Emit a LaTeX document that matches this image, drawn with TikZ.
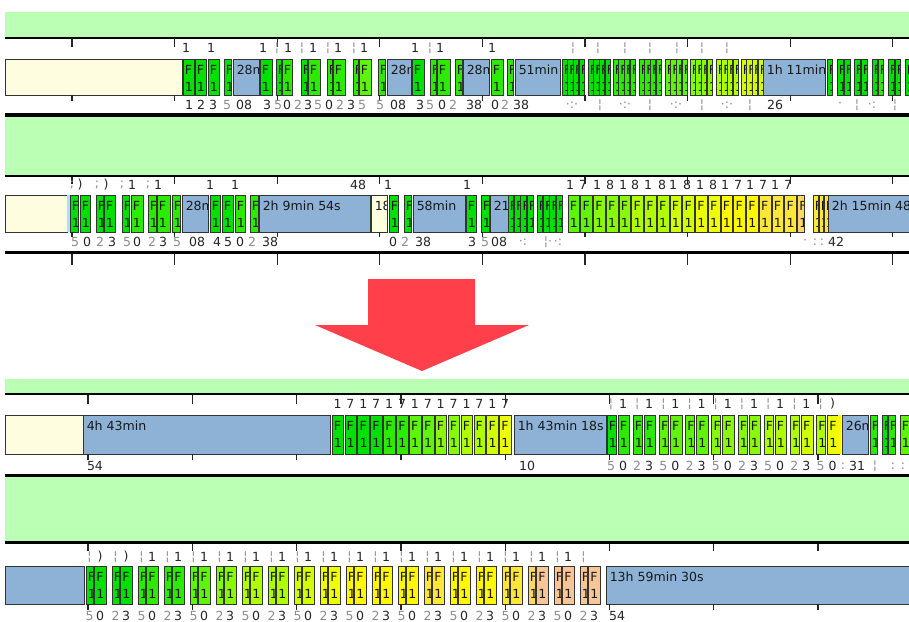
\documentclass[tikz,border=0pt]{standalone}
\usepackage{fontspec}
\setmainfont{DejaVu Sans}
\definecolor{gband}{RGB}{186,255,180}
\definecolor{beige}{RGB}{255,253,224}
\definecolor{bblue}{RGB}{141,178,214}
\definecolor{arrowred}{RGB}{255,64,74}
\definecolor{c0}{RGB}{0,225,0}
\definecolor{c1}{RGB}{45,235,0}
\definecolor{c2}{RGB}{95,245,10}
\definecolor{c3}{RGB}{135,250,10}
\definecolor{c4}{RGB}{175,255,0}
\definecolor{c5}{RGB}{210,255,0}
\definecolor{c6}{RGB}{238,255,0}
\definecolor{c7}{RGB}{255,248,0}
\definecolor{c8}{RGB}{255,230,55}
\definecolor{c9}{RGB}{255,216,100}
\definecolor{pe}{RGB}{248,198,150}
\newcommand\lblfont{\fontsize{9.4}{10}\selectfont}
\newcommand\rowtop{0}
\newcommand\rowbot{0}
\newcommand\setrow[2]{\renewcommand\rowtop{#1}\renewcommand\rowbot{#2}}
\tikzset{
  lbl/.style={font=\lblfont, inner sep=0pt, text=black!85},
  frag/.style={lbl, text=black!45},
  intxt/.style={font=\lblfont, inner sep=0pt, anchor=north west, text=black!90},
  bedge/.style={draw=black!80, line width=0.6pt},
  tickln/.style={draw=black!85, line width=1pt}
}
% block with F / 1 text
\newcommand\fb[3]{%
  \begin{scope}
    \clip (#1,\rowtop) rectangle (#2,\rowbot);
    \fill[#3] (#1,\rowtop) rectangle (#2,\rowbot);
    \node[intxt] at (#1+1.5,\rowtop+6) {F};
    \node[intxt] at (#1+1.5,\rowtop+23) {1};
  \end{scope}
  \draw[bedge] (#1,\rowtop) rectangle (#2,\rowbot);}
% block with a label
\newcommand\tb[4]{%
  \begin{scope}
    \clip (#1,\rowtop) rectangle (#2,\rowbot);
    \fill[#3] (#1,\rowtop) rectangle (#2,\rowbot);
    \node[intxt] at (#1+3.5,\rowtop+6) {#4};
  \end{scope}
  \draw[bedge] (#1,\rowtop) rectangle (#2,\rowbot);}
\newcommand\nb[3]{\tb{#1}{#2}{bblue}{#3}}
\begin{document}
\begin{tikzpicture}[x=0.75pt,y=-0.75pt]
\useasboundingbox (0,0) rectangle (909,621);
\fill[white] (0,0) rectangle (909,621);

% ================= panel 1 backgrounds
\fill[gband] (5,12) rectangle (912,37);
\draw[line width=1.5pt] (5,38) -- (912,38);
\draw[line width=3pt] (5,115) -- (912,115);
\fill[gband] (5,117) rectangle (912,175);
\draw[line width=1.8pt] (5,176) -- (912,176);
\draw[line width=2.6pt] (5,252.5) -- (912,252.5);

% ================= row A
\setrow{59}{95}
\tb{5}{182}{beige}{}
\foreach \a/\b/\c in {183/194/c0,195/206/c0,208/219/c0,224/231/c0,260/272/c0,276/281/c0,282/292/c1,301/307/c0,308/320/c1,327/332/c1,333/345/c1,353/358/c1,359/371/c2,378/385/c1,412/424/c0,430/436/c1,437/450/c1,455/462/c1,491/503/c1,507/513/c1,827/832/c0,837/843/c0,844/850/c0,854/860/c0,861/867/c0,872/877/c0,878/883/c1,888/894/c0,895/900/c0,905/911/c0}
  {\fb{\a}{\b}{\c}}
\nb{233}{259}{28min}
\nb{387}{411}{28min}
\nb{463}{489}{28min}
\nb{515}{560}{51min}
\nb{763}{825}{1h 11min}
\foreach \s/\c in {562/c0,588/c0,613/c1,639/c1,665/c2,690/c3,716/c4,741/c5}
  {\foreach \j in {0,1,2,3}
    {\pgfmathsetmacro\xa{\s+\j*5.7}\pgfmathsetmacro\xb{\xa+5.2}\fb{\xa}{\xb}{\c}}}

% ================= row B
\setrow{195}{232}
\tb{5}{67}{beige}{}
\fill[cyan!35] (67,195) rectangle (70,232);
\foreach \a/\b/\c in {70/78/c0,80/90/c0,96/103/c0,104/115/c0,122/129/c0,131/143/c1,148/156/c1,157/170/c1,172/180/c1,210/220/c0,222/233/c0,235/245/c1,250/258/c1,389/398/c0,404/411/c0,466/476/c0,481/489/c0}
  {\fb{\a}{\b}{\c}}
\nb{182}{208}{28min}
\nb{259}{370}{2h 9min 54s}
\tb{371}{387}{beige}{18}
\nb{413}{465}{58min}
\nb{490}{508}{21min}
\foreach \s in {508,537}
  {\foreach \j in {0,1,2,3}
    {\pgfmathsetmacro\xa{\s+\j*6.4}\pgfmathsetmacro\xb{\xa+5.8}\fb{\xa}{\xb}{c0}}}
\foreach \i/\c in {0/c2,1/c2,2/c3,3/c3,4/c3,5/c4,6/c4,7/c4,8/c5,9/c5,10/c6,11/c6,12/c7,13/c7,14/c7,15/c8,16/c8,17/c8}
  {\pgfmathsetmacro\xa{568+12.75*\i}\pgfmathsetmacro\xb{\xa+11.8}\fb{\xa}{\xb}{\c}}
\fb{797.5}{804}{c9}
\foreach \a/\b in {813/818,819/823,824/828}{\fb{\a}{\b}{c8}}
\nb{828}{915}{2h 15min 48s}

% ================= arrow
\fill[arrowred] (368,279) -- (475,279) -- (475,325) -- (529,325) -- (422,371) -- (315,325) -- (368,325) -- cycle;

% ================= panel 2 backgrounds
\fill[gband] (5,379) rectangle (912,392.5);
\draw[line width=1.8pt] (5,394) -- (912,394);
\draw[line width=2.6pt] (5,475.5) -- (912,475.5);
\fill[gband] (5,477) rectangle (912,541);
\draw[line width=2.2pt] (5,542.5) -- (912,542.5);

% ================= row C
\setrow{415}{454}
\tb{5}{83}{beige}{}
\nb{83}{330}{4h 43min}
\foreach \i/\c in {0/c0,1/c0,2/c0,3/c0,4/c1,5/c1,6/c2,7/c2,8/c3,9/c3,10/c4,11/c4,12/c5,13/c6}
  {\pgfmathsetmacro\xa{332+12.9*\i}\pgfmathsetmacro\xb{\xa+11.6}\fb{\xa}{\xb}{\c}}
\nb{514}{606}{1h 43min 18s}
\foreach \k/\ca/\cb in {0/c0/c1,1/c1/c1,2/c2/c2,3/c2/c2,4/c3/c3,5/c3/c3,6/c4/c4,7/c4/c5,8/c4/c6}
  {\pgfmathsetmacro\xa{607+26.2*\k}\pgfmathsetmacro\xb{\xa+9}
   \pgfmathsetmacro\xc{\xa+11}\pgfmathsetmacro\xd{\xa+22.5}
   \fb{\xa}{\xb}{\ca}\fb{\xc}{\xd}{\cb}}
\fill[c7] (838,415) rectangle (841,454);
\nb{842}{868}{26min}
\foreach \a/\b/\c in {870/877/c1,882/887/c0,888/895/c1,900/911/c2}{\fb{\a}{\b}{\c}}

% ================= row D
\setrow{566}{604}
\nb{5}{84}{}
\foreach \k/\ca/\cb in {0/c0/c0,1/c0/c0,2/c1/c1,3/c1/c1,4/c2/c2,5/c3/c3,6/c4/c4,7/c4/c4,8/c5/c5,9/c6/c6,10/c7/c7,11/c7/c7,12/c7/c7,13/c8/c8,14/c7/c7,15/c7/c7,16/c8/c8,17/c9/pe,18/pe/pe,19/pe/pe}
  {\pgfmathsetmacro\xa{86+26*\k}\pgfmathsetmacro\xb{\xa+7}
   \pgfmathsetmacro\xc{\xa+8.5}\pgfmathsetmacro\xd{\xa+20}
   \fb{\xa}{\xb}{\ca}\fb{\xc}{\xd}{\cb}}
\nb{606}{915}{13h 59min 30s}

% ================= ticks
\foreach \k in {0,...,8}{
  \pgfmathsetmacro\tx{72+102.6*\k}
  \draw[tickln] (\tx,38) -- (\tx,47);
  \draw[tickln] (\tx,95) -- (\tx,101);
  \draw[tickln] (\tx,177) -- (\tx,184);
  \draw[tickln] (\tx,232) -- (\tx,237);
  \draw[tickln] (\tx,254) -- (\tx,265);}
\foreach \k in {0,...,7}{
  \pgfmathsetmacro\tx{88+104.3*\k}
  \draw[tickln] (\tx,395) -- (\tx,404);
  \draw[tickln] (\tx,454) -- (\tx,460);
  \draw[tickln] (\tx,544) -- (\tx,551);
  \draw[tickln] (\tx,604) -- (\tx,610);}

% ================= labels row A
\foreach \x/\t in {186/1,211/1,263/1,288/1,313/1,338/1,364/1,415/1,440/1,492/1}
  \node[lbl] at (\x,48) {\t};
\foreach \x in {277,302,328,354,430,573,598,625,650,677,702,727}
  \node[frag] at (\x,48) {¦};
\foreach \x/\t in {189/1,201/2,213/3,244/08,267/3,287/0,308/3,329/0,351/3,398/08,420/3,442/0,474/38,495/0,521/38,775/26}
  \node[lbl] at (\x,105) {\t};
\foreach \x/\t in {227/5,278/5,298/2,318/5,340/2,362/5,380/5,430/5,453/2,505/2,572/·:·,600/¦,625/·:·,650/¦,676/·:·,702/¦,727/·:·,750/¦,840/·,857/¦,872/·:,895/¦}
  \node[frag] at (\x,105) {\t};

% ================= labels row B
\foreach \x/\t in {80/),106/),132/1,158/1,210/1,235/1,358/48,388/1,467/1,570/1,583/7,597/1,610/8,623/1,635/8,648/1,662/8,673/1,687/8,700/1,713/8,725/1,738/7,750/1,763/7,775/1,788/7}
  \node[lbl] at (\x,185) {\t};
\foreach \x in {72,97,122,148}
  \node[frag] at (\x,185) {;};
\foreach \x/\t in {87/0,112/3,137/0,163/3,197/08,217/4,228/5,240/0,270/38,393/0,423/38,472/3,499/08,836/42}
  \node[lbl] at (\x,242) {\t};
\foreach \x/\t in {75/5,100/2,127/5,152/2,177/5,252/2,405/2,485/5,523/·:,548/¦·,558/·:,805/·,815/:,822/:}
  \node[frag] at (\x,242) {\t};
\foreach \i in {0,...,17}{
  \pgfmathsetmacro\xa{575+12.75*\i}
  \pgfmathtruncatemacro\mm{mod(\i,4)}
  \node[lbl] at (\xa,242) {\ifcase\mm 4\or 5\or 1\or 2\fi};}

% ================= labels row C
\foreach \i in {0,...,13}{
  \pgfmathsetmacro\xa{332+12.9*\i+5.5}
  \pgfmathtruncatemacro\mm{mod(\i,4)}
  \pgfmathtruncatemacro\pp{mod(\i,2)}
  \node[lbl] at (\xa,404) {\ifnum\pp=0 1\else 7\fi};
  \node[lbl] at (\xa,466) {\ifcase\mm 4\or 5\or 1\or 2\fi};}
\foreach \k in {0,...,8}{
  \pgfmathsetmacro\xa{607+26.2*\k}
  \pgfmathtruncatemacro\pp{mod(\k,2)}
  \node[frag] at (\xa+4,404) {¦};
  \node[lbl] at (\xa+16,404) {\ifnum\k=8 )\else 1\fi};
  \node[frag] at (\xa+4,466) {\ifnum\pp=0 5\else 2\fi};
  \node[lbl] at (\xa+16,466) {\ifnum\pp=0 0\else 3\fi};}
\foreach \x/\t in {95/54,527/10,857/31}
  \node[lbl] at (\x,466) {\t};
\foreach \x/\t in {843/:,875/¦,893/:,903/:}
  \node[frag] at (\x,466) {\t};

% ================= labels row D
\foreach \k in {0,...,19}{
  \pgfmathsetmacro\xa{86+26*\k}
  \pgfmathtruncatemacro\pp{mod(\k,2)}
  \node[frag] at (\xa+3.5,557) {¦};
  \ifnum\k<19 \node[lbl] at (\xa+14,557) {\ifnum\k<2 )\else 1\fi};\fi
  \node[frag] at (\xa+3.5,616) {\ifnum\pp=0 5\else 2\fi};
  \node[lbl] at (\xa+14,616) {\ifnum\pp=0 0\else 3\fi};}
\node[lbl] at (617,616) {54};
\end{tikzpicture}
\end{document}
